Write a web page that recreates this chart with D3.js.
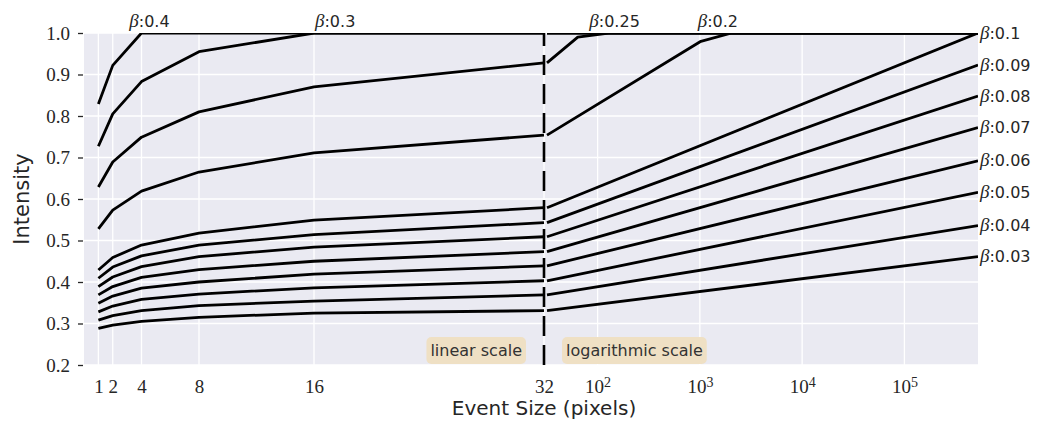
<!DOCTYPE html>
<html>
<head>
<meta charset="utf-8">
<script src="https://cdn.jsdelivr.net/npm/d3@7"></script>
<style>
  body { margin: 0; background: #fff; }
  svg { display: block; }
</style>
</head>
<body>
<svg id="chart" width="1050" height="421"></svg>
<script>
// ---- data -------------------------------------------------------------
const betas = ["0.4", "0.3", "0.25", "0.2", "0.1", "0.09", "0.08", "0.07", "0.06", "0.05", "0.04", "0.03"];

// event sizes on the linear part of the axis
const leftSizes = [1, 2, 4, 8, 16, 32];
// intensity per beta (same order as betas), saturating at 1.0
const leftIntensity = [
  [0.829, 0.922, 1.0, 1.0, 1.0, 1.0],
  [0.727, 0.805, 0.883, 0.955, 1.0, 1.0],
  [0.629, 0.689, 0.749, 0.810, 0.870, 0.928],
  [0.528, 0.573, 0.619, 0.665, 0.711, 0.754],
  [0.429, 0.459, 0.489, 0.518, 0.549, 0.579],
  [0.409, 0.436, 0.463, 0.489, 0.514, 0.543],
  [0.389, 0.412, 0.437, 0.461, 0.484, 0.509],
  [0.369, 0.389, 0.411, 0.430, 0.450, 0.473],
  [0.349, 0.366, 0.385, 0.400, 0.419, 0.439],
  [0.328, 0.342, 0.358, 0.371, 0.386, 0.403],
  [0.308, 0.319, 0.331, 0.343, 0.354, 0.369],
  [0.288, 0.296, 0.305, 0.315, 0.325, 0.331]
];

// event sizes on the logarithmic part of the axis (null = no reading there)
const rightSizes = [32, 64, 128, 1024, 2048, 524288];
const rightIntensity = [
  [1.0, null, null, null, null, 1.0],
  [1.0, null, null, null, null, 1.0],
  [0.928, 0.990, 1.0, null, null, 1.0],
  [0.754, null, null, 0.980, 1.0, 1.0],
  [0.579, null, null, null, null, 1.0],
  [0.543, null, null, null, null, 0.923],
  [0.509, null, null, null, null, 0.848],
  [0.473, null, null, null, null, 0.772],
  [0.439, null, null, null, null, 0.692],
  [0.403, null, null, null, null, 0.616],
  [0.369, null, null, null, null, 0.536],
  [0.331, null, null, null, null, 0.461]
];

const yTicks = [0.2, 0.3, 0.4, 0.5, 0.6, 0.7, 0.8, 0.9, 1.0];
const leftTicks = [1, 2, 4, 8, 16, 32];
const rightTicks = [100, 1000, 10000, 100000];

// betas whose curves saturate early get their label above the frame
const topLabelBetas = ["0.4", "0.3", "0.25", "0.2"];
const sideLabelBetas = ["0.1", "0.09", "0.08", "0.07", "0.06", "0.05", "0.04", "0.03"];

// ---- layout -----------------------------------------------------------
const W = 1050, H = 421;
const box = { left: 84, right: 978, top: 33, bottom: 365 };
const splitX = 544;

const xLin = d3.scaleLinear().domain([0, 32]).range([box.left, splitX]);
const xLog = d3.scaleLog().domain([32, 524288]).range([547, box.right]);
const y = d3.scaleLinear().domain([0.2, 1.0]).range([box.bottom, box.top]);

// where the labels of the saturated curves sit (data coordinates)
const topLabelAnchor = {
  "0.4": { scale: xLin, x: 3.15 },
  "0.3": { scale: xLin, x: 16.07 },
  "0.25": { scale: xLog, x: 83 },
  "0.2": { scale: xLog, x: 952 }
};

const ink = "#262626";
const serif = "'Liberation Serif', 'DejaVu Serif', serif";
const sans = "'DejaVu Sans', sans-serif";

const svg = d3.select("#chart");

svg.append("defs").append("clipPath").attr("id", "plot-clip")
  .append("rect")
  .attr("x", box.left).attr("y", box.top)
  .attr("width", box.right - box.left).attr("height", box.bottom - box.top);

// panel background
svg.append("rect")
  .attr("x", box.left).attr("y", box.top)
  .attr("width", box.right - box.left).attr("height", box.bottom - box.top)
  .attr("fill", "#eaeaf2");

// grid
const grid = svg.append("g").attr("stroke", "#fff").attr("stroke-width", 1.3);
grid.selectAll("line.h").data(yTicks).join("line")
  .attr("x1", box.left).attr("x2", box.right)
  .attr("y1", d => y(d)).attr("y2", d => y(d));
grid.selectAll("line.vl").data(leftTicks).join("line")
  .attr("x1", d => xLin(d)).attr("x2", d => xLin(d))
  .attr("y1", box.top).attr("y2", box.bottom);
grid.selectAll("line.vr").data(rightTicks).join("line")
  .attr("x1", d => xLog(d)).attr("x2", d => xLog(d))
  .attr("y1", box.top).attr("y2", box.bottom);

// y axis
const yAxis = svg.append("g")
  .attr("transform", `translate(${box.left - 1},0)`)
  .call(d3.axisLeft(y).tickValues(yTicks).tickFormat(d3.format(".1f")).tickSize(5).tickPadding(8));
yAxis.select(".domain").remove();
yAxis.selectAll(".tick line").attr("stroke", ink).attr("stroke-width", 1.3);
yAxis.selectAll(".tick text").attr("fill", ink).style("font-family", serif).style("font-size", "19px");

// x axis, linear part
const xAxisL = svg.append("g")
  .attr("transform", `translate(0,${box.bottom})`)
  .call(d3.axisBottom(xLin).tickValues(leftTicks).tickFormat(d3.format("d")).tickSize(0).tickPadding(15));
xAxisL.select(".domain").remove();
xAxisL.selectAll(".tick text").attr("fill", ink).style("font-family", serif).style("font-size", "19px");

// x axis, logarithmic part (powers of ten with superscript exponents)
const xAxisR = svg.append("g")
  .attr("transform", `translate(0,${box.bottom})`)
  .call(d3.axisBottom(xLog).tickValues(rightTicks).tickFormat(() => "").tickSize(0).tickPadding(15));
xAxisR.select(".domain").remove();
xAxisR.selectAll(".tick text")
  .attr("fill", ink).style("font-family", serif).style("font-size", "19px")
  .each(function (d) {
    const t = d3.select(this);
    t.append("tspan").text("10");
    t.append("tspan").text(Math.round(Math.log10(d)))
      .attr("dy", "-0.45em").style("font-size", "14px");
  });

// curves
const plot = svg.append("g").attr("clip-path", "url(#plot-clip)");
const lineL = d3.line().x(d => xLin(d[0])).y(d => y(d[1]));
const lineR = d3.line().x(d => xLog(d[0])).y(d => y(d[1]));

betas.forEach((b, i) => {
  const ptsL = leftSizes.map((s, j) => [s, leftIntensity[i][j]]);
  const ptsR = rightSizes.map((s, j) => [s, rightIntensity[i][j]]).filter(p => p[1] !== null);
  plot.append("path").attr("d", lineL(ptsL))
    .attr("fill", "none").attr("stroke", "#000").attr("stroke-width", 2.8)
    .attr("stroke-linejoin", "round");
  plot.append("path").attr("d", lineR(ptsR))
    .attr("fill", "none").attr("stroke", "#000").attr("stroke-width", 2.8)
    .attr("stroke-linejoin", "round");
});

// boundary between the linear and logarithmic parts
svg.append("line")
  .attr("x1", splitX).attr("x2", splitX)
  .attr("y1", box.bottom).attr("y2", box.top)
  .attr("stroke", "#000").attr("stroke-width", 2.6)
  .attr("stroke-dasharray", "20,9");

// beta labels
function betaLabel(sel, b) {
  sel.append("tspan").text("β").style("font-family", serif).style("font-style", "italic").style("font-size", "19px");
  sel.append("tspan").text(":" + b).style("font-family", sans).style("font-size", "16px");
}
topLabelBetas.forEach(b => {
  const a = topLabelAnchor[b];
  svg.append("text")
    .attr("x", a.scale(a.x)).attr("y", y(1.0) - 6.5)
    .attr("fill", ink)
    .call(betaLabel, b);
});
sideLabelBetas.forEach(b => {
  const i = betas.indexOf(b);
  const last = rightIntensity[i][rightIntensity[i].length - 1];
  svg.append("text")
    .attr("x", xLog(rightSizes[rightSizes.length - 1]) + 2).attr("y", y(last))
    .attr("dy", "0.35em")
    .attr("fill", ink)
    .call(betaLabel, b);
});

// scale annotations either side of the boundary
function scaleNote(text, x, anchor) {
  const g = svg.append("g");
  const t = g.append("text")
    .attr("x", x).attr("y", 356)
    .attr("text-anchor", anchor)
    .attr("fill", "#333")
    .style("font-family", sans).style("font-size", "16px")
    .text(text);
  const bb = t.node().getBBox();
  g.insert("rect", "text")
    .attr("x", bb.x - 4).attr("y", bb.y - 4)
    .attr("width", bb.width + 8).attr("height", bb.height + 8)
    .attr("rx", 5)
    .attr("fill", "rgb(239,224,196)");
}
scaleNote("linear scale", splitX - 22, "end");
scaleNote("logarithmic scale", splitX + 22, "start");

// axis titles
svg.append("text")
  .attr("transform", `translate(29,${(box.top + box.bottom) / 2}) rotate(-90)`)
  .attr("text-anchor", "middle")
  .attr("fill", ink)
  .style("font-family", sans).style("font-size", "21px")
  .text("Intensity");
svg.append("text")
  .attr("x", splitX).attr("y", 415)
  .attr("text-anchor", "middle")
  .attr("fill", ink)
  .style("font-family", sans).style("font-size", "20px")
  .text("Event Size (pixels)");
</script>
</body>
</html>
